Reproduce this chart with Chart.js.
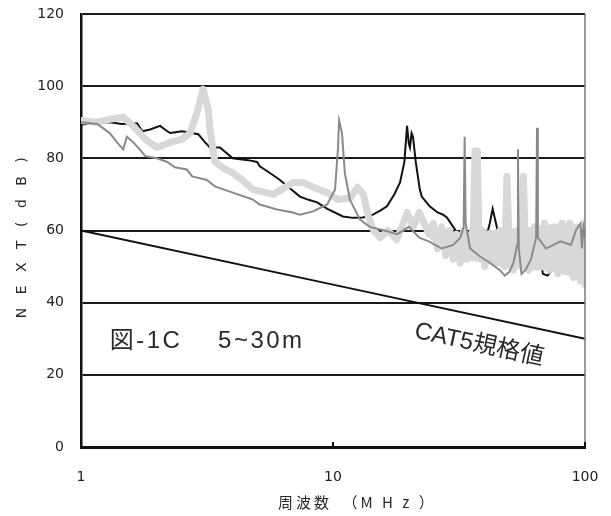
<!DOCTYPE html>
<html lang="ja">
<head>
<meta charset="utf-8">
<title>NEXT 図-1C</title>
<script src="https://cdn.jsdelivr.net/npm/chart.js@4.4.1/dist/chart.umd.min.js"></script>
<style>
  html, body { margin: 0; padding: 0; background: #fff; }
  #wrap { width: 611px; height: 516px; }
</style>
</head>
<body>
<div id="wrap"><canvas id="nextChart" width="611" height="516"></canvas></div>
<script>
// NEXT 測定結果 (5~30m) と CAT5 規格値 — 対数周波数軸の折れ線

// 軸の目盛
var xTicks = [1, 10, 100];
var yTicks = [0, 20, 40, 60, 80, 100, 120];

// 黒線
var blackFreq = [1.0, 1.16, 1.3, 1.45, 1.67, 1.75, 1.88, 2.06, 2.2, 2.26, 2.52, 2.92, 3.1, 3.25, 3.56,
  4.0, 4.6, 5.0, 5.12, 5.6, 6.16, 6.8, 7.39, 8.0, 8.65, 9.5, 10.95, 12.0, 13.13, 14.4, 15.4, 16.37,
  17.5, 18.45, 19.2, 19.67, 20.0, 20.2, 20.5, 20.77, 21.3, 22.1, 22.5, 24.2, 26, 27.3, 28.3, 30, 31,
  33, 36, 39, 40.5, 41.9, 43, 44, 45, 47, 50, 55, 60, 64, 66, 68, 71, 74, 77, 80, 81, 86, 92, 96, 100];
var blackNext = [89.4, 89.7, 90, 89.5, 89.7, 87.5, 88, 89, 87.5, 87, 87.5, 86.7, 84.5, 83, 83,
  80, 79.5, 79, 77.8, 76, 74, 71.5, 69.4, 68.5, 67.8, 66, 63.9, 63.5, 63.6, 64.4, 65.5, 66.7,
  70, 73.3, 79, 89, 84, 83, 87, 86, 79, 71.4, 69.4, 66.7, 65, 64.4, 63.6, 61, 59.5,
  60, 59, 56.7, 58, 62, 66, 63, 60, 60, 59, 60, 58, 57, 55, 48, 47.5, 49, 60, 60, 55, 58, 54, 57, 52];

// 灰色線(細)
var grayFreq = [1.0, 1.16, 1.3, 1.39, 1.47, 1.52, 1.61, 1.71, 1.8, 2.0, 2.2, 2.36, 2.63, 2.76, 3.16,
  3.4, 4.0, 4.8, 5.12, 6.0, 6.93, 7.39, 8.33, 9.48, 10.19, 10.47, 10.57, 10.86, 11.14, 11.66, 12.8,
  14, 16, 18, 20, 22, 24, 27, 30, 32, 33, 33.3, 33.6, 35, 38, 42, 46, 48, 50, 52, 53.8, 54.2, 54.6,
  56, 58, 61, 64, 64.5, 65, 70, 80, 88, 92, 96, 97.3, 98.5, 100];
var grayNext = [90, 89.5, 87, 84.4, 82.5, 86, 84.5, 82.5, 80.6, 80, 79, 77.5, 76.9, 75, 74,
  72.2, 70.5, 68.6, 67.2, 65.8, 65, 64.4, 65.3, 67.2, 71.4, 83, 90.5, 87, 76, 68.6, 63,
  61, 60, 59, 61, 58, 57, 55, 56, 58, 61, 86, 62, 55, 53, 51, 49, 47.5, 48.5, 51, 56, 82.5, 55,
  48, 49, 52, 58, 88.5, 58, 55, 57, 56, 60, 62, 55, 61, 58];

// 薄灰色線(太)
var lightFreq = [1.0, 1.16, 1.3, 1.47, 1.61, 1.8, 2.0, 2.26, 2.52, 2.71, 2.89, 3.05, 3.2, 3.25, 3.4,
  3.73, 4.0, 4.36, 4.8, 5.8, 6.93, 7.6, 8.33, 9.48, 10.47, 11.7, 12.5, 13.2, 13.8, 14.5, 15.4, 16.5,
  17.9, 19, 19.7, 20.8, 22, 23, 24, 25, 26, 27, 28, 29, 30, 31, 32, 33, 34, 35, 36, 36.6, 37.4, 38,
  39, 40, 42, 44, 46, 48, 49, 50, 52, 54, 56, 57, 58, 60, 63, 66, 69, 72, 75, 78, 81, 84, 87, 90,
  93, 96, 99, 100];
var lightNext = [90.5, 90, 90.8, 91.4, 89, 85.3, 83, 84.4, 85.3, 87, 92.8, 99.2, 93.6, 88, 79,
  77, 76, 74, 71.4, 70, 73.3, 73.3, 72, 70.5, 68.6, 69, 72, 70, 64, 60, 58, 60,
  57.5, 62, 65, 61, 65, 62, 59, 62, 55, 61, 53, 60, 52, 59, 51, 60, 52, 58, 60, 82, 82, 54,
  60, 50, 59, 51, 60, 50, 75, 56, 49, 60, 51, 75, 54, 49, 61, 50, 62, 49, 61, 48, 62, 50, 62, 47,
  61, 46, 58, 45];

// 薄灰色線の高域側の振れ幅 (上端・下端)
var bandFreq = [24, 28, 32, 40, 50, 60, 70, 80, 90, 100];
var bandHigh = [61, 60, 59.5, 60, 60.5, 61, 61.5, 62, 62, 58];
var bandLow = [58, 54, 52, 51, 49.5, 49, 49, 48, 47, 45];

// CAT5 規格値
var cat5Freq = [1, 10, 100];
var cat5Next = [60, 45, 30];

// 注記
var figLabel = '図-1C　 5~30m';
var figLabelAt = [1.3, 29.4];
var cat5Label = 'CAT5規格値';
var cat5LabelAt = [38, 28.3];

var LIGHT = '#d8d8d8';

function pts(fs, vs) {
  return fs.map(function (f, i) { return { x: f, y: vs[i] }; });
}

var TICK_FONT = { family: '"DejaVu Sans", sans-serif', size: 14 };

// 右枠・内向き目盛・軸タイトル・注記
var decorations = {
  id: 'decorations',
  afterDatasetsDraw: function (chart) {
    var ctx = chart.ctx, area = chart.chartArea;
    var xs = chart.scales.x, ys = chart.scales.y;
    ctx.save();

    ctx.strokeStyle = '#7a7a7a';
    ctx.lineWidth = 1.5;
    ctx.beginPath();
    ctx.moveTo(area.right, area.top);
    ctx.lineTo(area.right, area.bottom);
    ctx.stroke();

    ctx.strokeStyle = '#111';
    ctx.lineWidth = 2;
    xTicks.forEach(function (v) {
      var px = xs.getPixelForValue(v);
      ctx.beginPath();
      ctx.moveTo(px, area.bottom);
      ctx.lineTo(px, area.bottom - 5);
      ctx.stroke();
    });

    ctx.fillStyle = '#2a2a2a';
    ctx.textBaseline = 'middle';

    ctx.font = '24px "Liberation Sans", "Noto Sans CJK JP", sans-serif';
    ctx.letterSpacing = '2.5px';
    ctx.textAlign = 'left';
    ctx.fillText(figLabel, xs.getPixelForValue(figLabelAt[0]), ys.getPixelForValue(figLabelAt[1]));

    // 規格線の傾きに合わせて回転
    var ang = Math.atan2(
      ys.getPixelForValue(cat5Next[cat5Next.length - 1]) - ys.getPixelForValue(cat5Next[0]),
      xs.getPixelForValue(cat5Freq[cat5Freq.length - 1]) - xs.getPixelForValue(cat5Freq[0]));
    ctx.save();
    ctx.translate(xs.getPixelForValue(cat5LabelAt[0]), ys.getPixelForValue(cat5LabelAt[1]));
    ctx.rotate(ang);
    ctx.textAlign = 'center';
    ctx.font = '24px "Liberation Sans", "Noto Sans CJK JP", sans-serif';
    ctx.letterSpacing = '0px';
    ctx.fillText(cat5Label, 0, 0);
    ctx.restore();

    ctx.font = '15px "Noto Sans CJK JP", sans-serif';
    ctx.letterSpacing = '3px';
    ctx.textAlign = 'left';
    ctx.fillText('周波数　（M H z ）', area.left + 197, 502);

    ctx.save();
    ctx.translate(22, (area.top + area.bottom) / 2 + 5);
    ctx.rotate(-Math.PI / 2);
    ctx.textAlign = 'center';
    ctx.font = '14px "DejaVu Sans", sans-serif';
    ctx.letterSpacing = '4.5px';
    ctx.fillText('N E X T ( d B )', 0, 0);
    ctx.restore();

    ctx.restore();
  }
};

new Chart(document.getElementById('nextChart'), {
  type: 'line',
  data: {
    datasets: [
      { label: 'gray', data: pts(grayFreq, grayNext), borderColor: '#8a8a8a', borderWidth: 2, order: 1 },
      { label: 'light', data: pts(lightFreq, lightNext), borderColor: LIGHT, borderWidth: 7,
        borderJoinStyle: 'round', borderCapStyle: 'round', order: 2 },
      { label: 'bandHigh', data: pts(bandFreq, bandHigh), borderWidth: 0, borderColor: LIGHT, order: 3 },
      { label: 'bandLow', data: pts(bandFreq, bandLow), borderWidth: 0, borderColor: LIGHT,
        backgroundColor: LIGHT, fill: '-1', order: 3 },
      { label: 'black', data: pts(blackFreq, blackNext), borderColor: '#111', borderWidth: 2, order: 4 },
      { label: 'CAT5', data: pts(cat5Freq, cat5Next), borderColor: '#111', borderWidth: 2, order: 5 }
    ]
  },
  options: {
    responsive: false,
    animation: false,
    devicePixelRatio: 1,
    layout: { padding: { left: 0, right: 26, top: 14, bottom: 0 } },
    elements: { point: { radius: 0 }, line: { tension: 0, fill: false } },
    plugins: { legend: { display: false }, tooltip: { enabled: false }, filler: { propagate: false } },
    scales: {
      x: {
        type: 'logarithmic',
        min: 1,
        max: 100,
        afterBuildTicks: function (s) { s.ticks = xTicks.map(function (v) { return { value: v }; }); },
        afterFit: function (s) { s.height = 69; s.paddingLeft = 0; s.paddingRight = 0; },
        ticks: {
          font: TICK_FONT, color: '#222', padding: 22, autoSkip: false, maxRotation: 0,
          callback: function (v) { return String(v); }
        },
        grid: { display: false, drawTicks: false },
        border: { color: '#111', width: 3 }
      },
      y: {
        min: 0,
        max: 120,
        afterBuildTicks: function (s) { s.ticks = yTicks.map(function (v) { return { value: v }; }); },
        afterFit: function (s) { s.width = 81; s.paddingTop = 0; s.paddingBottom = 0; },
        ticks: { font: TICK_FONT, color: '#222', padding: 17 },
        grid: { color: '#1a1a1a', lineWidth: 2, drawTicks: false },
        border: { color: '#111', width: 2.5 }
      }
    }
  },
  plugins: [decorations]
});
</script>
</body>
</html>
